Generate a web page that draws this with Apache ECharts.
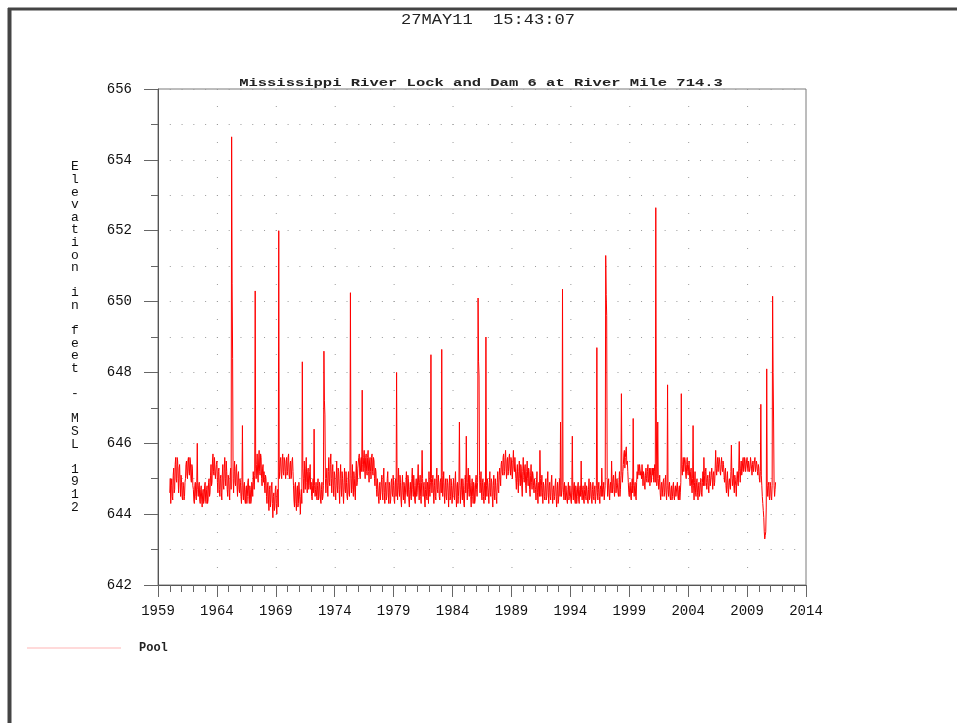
<!DOCTYPE html>
<html><head><meta charset="utf-8">
<script src="https://cdn.jsdelivr.net/npm/echarts@6/dist/echarts.min.js"></script>
<style>html,body{margin:0;padding:0;background:#fff}#c{width:957px;height:723px}</style>
</head><body><div id="c"></div>
<script>
// ---- text ----
const chartTitle = 'Mississippi River Lock and Dam 6 at River Mile 714.3';
const stampText = '27MAY11  15:43:07';
const yAxisTitle = 'Elevation in feet - MSL 1912';
const seriesName = 'Pool';

// ---- axes (tick labels come from these) ----
const xMin = 1959, xMax = 2014, xStep = 5;
const yMin = 642, yMax = 656, yStep = 2;

// ---- pool elevation readings, two per month (1st = "A", mid-month = "B"), from Jan 1960 ----
const startYear = 1960;
const readingsPerYear = 24;

const pool1960sA = [
  644.6, 644.3, 645.0, 644.4, 645.3, 644.7, 645.6, 644.9, 645.5, 644.6, 645.4, 644.5,
  644.9, 644.4, 644.8, 644.5, 645.0, 645.5, 645.0, 645.6, 645.1, 645.5, 644.9, 645.3,
  644.7, 644.3, 644.9, 644.4, 646.0, 644.5, 644.9, 644.3, 644.8, 644.2, 644.7, 644.4,
  644.9, 644.3, 644.8, 644.4, 645.0, 644.6, 645.4, 644.9, 645.7, 645.1, 645.6, 645.0,
  645.5, 644.6, 645.3, 644.5, 645.1, 644.4, 645.4, 644.7, 645.6, 644.8, 645.2, 644.5,
  645.0, 644.4, 645.3, 654.65, 648.4, 644.6, 645.5, 644.8, 645.4, 644.5, 645.2, 644.6,
  644.9, 644.3, 646.5, 644.4, 644.9, 644.3, 644.8, 644.5, 645.0, 644.3, 644.7, 644.4,
  644.8, 645.2, 644.7, 650.3, 645.0, 645.7, 644.9, 645.8, 645.1, 645.6, 644.8, 645.4,
  645.2, 644.6, 645.0, 644.3, 644.9, 644.1, 644.8, 644.4, 644.9, 643.9, 644.6, 644.2,
  644.8, 644.0, 644.7, 652.0, 645.2, 645.6, 645.0, 645.7, 645.1, 645.5, 645.0, 645.6
];
const pool1960sB = [
  645.0, 644.8, 644.5, 645.1, 644.6, 645.4, 645.0, 645.6, 645.0, 645.3, 644.9, 645.1,
  644.5, 644.9, 644.4, 644.9, 645.4, 645.1, 645.5, 645.2, 645.6, 645.0, 645.4, 644.8,
  644.4, 644.8, 644.5, 644.9, 644.7, 644.8, 644.4, 644.7, 644.4, 644.6, 644.3, 644.8,
  644.4, 644.7, 644.3, 644.9, 644.5, 645.1, 644.8, 645.5, 645.2, 645.6, 645.0, 645.4,
  644.9, 645.2, 644.7, 645.0, 644.6, 645.1, 644.8, 645.3, 645.0, 645.5, 644.7, 645.1,
  644.6, 645.1, 644.7, 650.5, 645.0, 645.2, 644.9, 645.3, 644.8, 645.1, 644.7, 645.0,
  644.5, 644.8, 644.6, 644.8, 644.4, 644.7, 644.3, 644.9, 644.5, 644.8, 644.3, 644.9,
  644.5, 644.9, 645.1, 645.3, 645.4, 645.1, 645.5, 645.2, 645.7, 645.0, 645.3, 644.9,
  644.8, 645.1, 644.5, 644.8, 644.4, 644.7, 644.2, 644.8, 644.3, 644.5, 644.1, 644.7,
  644.3, 644.6, 644.2, 645.0, 645.5, 645.1, 645.5, 645.2, 645.6, 645.2, 645.5, 645.1
];
const pool1970sA = [
  645.2, 645.7, 645.0, 645.5, 645.1, 645.6, 644.8, 644.2, 644.9, 644.1, 644.8, 644.3,
  644.9, 644.0, 644.7, 648.3, 645.0, 645.5, 644.7, 645.6, 644.6, 645.3, 644.8, 645.4,
  644.9, 644.4, 645.0, 646.4, 644.5, 644.9, 644.4, 645.0, 644.5, 644.8, 644.3, 644.9,
  644.5, 648.6, 646.8, 644.6, 645.3, 644.5, 645.6, 644.8, 645.7, 644.6, 645.4, 644.5,
  645.1, 644.4, 645.5, 644.6, 645.2, 644.3, 645.4, 644.5, 645.0, 644.3, 645.3, 644.6,
  644.9, 644.4, 645.2, 644.5, 650.25, 644.6, 645.4, 644.5, 645.0, 644.4, 645.5, 644.9,
  645.3, 645.7, 645.0, 645.6, 647.5, 645.2, 645.8, 645.0, 645.7, 645.1, 645.8, 644.9,
  645.6, 645.0, 645.7, 645.1, 645.5, 644.8, 645.2, 644.5, 645.0, 644.3, 644.9, 644.4,
  645.1, 644.4, 645.3, 644.3, 644.9, 644.5, 645.2, 644.3, 644.8, 644.4, 645.0, 644.5,
  644.8, 644.3, 645.0, 648.0, 644.4, 645.3, 644.5, 644.9, 644.2, 645.1, 644.4, 644.8
];
const pool1970sB = [
  645.6, 645.1, 645.4, 645.0, 645.5, 645.2, 644.4, 644.8, 644.3, 644.7, 644.2, 644.9,
  644.4, 644.5, 644.3, 645.3, 644.6, 645.0, 645.3, 644.9, 645.2, 644.7, 645.2, 644.7,
  644.5, 644.8, 644.6, 644.8, 644.7, 644.5, 644.8, 644.4, 644.9, 644.4, 644.7, 644.4,
  644.8, 647.2, 645.0, 645.0, 644.8, 645.2, 644.9, 645.4, 645.0, 645.2, 644.8, 645.2,
  644.6, 645.0, 644.8, 645.3, 644.7, 645.0, 644.8, 645.2, 644.6, 644.9, 644.7, 645.2,
  644.5, 644.9, 644.6, 645.0, 645.1, 645.0, 644.7, 645.2, 644.6, 645.1, 644.8, 645.3,
  645.6, 645.1, 645.5, 645.2, 645.4, 645.6, 645.3, 645.6, 645.2, 645.6, 645.2, 645.5,
  645.2, 645.6, 645.2, 645.6, 645.0, 645.3, 644.7, 645.0, 644.5, 644.8, 644.4, 644.9,
  644.6, 645.0, 644.6, 644.8, 644.4, 645.0, 644.6, 644.9, 644.3, 644.9, 644.6, 645.1,
  644.4, 644.9, 644.5, 644.9, 644.8, 644.7, 645.1, 644.4, 644.8, 644.6, 644.9, 644.3
];
const pool1980sA = [
  644.3, 645.2, 644.5, 645.0, 644.2, 644.9, 644.4, 645.3, 644.5, 644.8, 644.3, 645.0,
  644.6, 645.4, 644.4, 645.1, 644.3, 645.8, 644.5, 644.9, 644.2, 645.0, 644.4, 644.8,
  645.2, 644.5, 648.5, 644.6, 645.1, 644.3, 645.0, 644.4, 645.3, 644.6, 644.9, 644.4,
  645.0, 648.65, 644.5, 645.2, 644.3, 645.0, 644.4, 644.9, 644.2, 645.1, 644.5, 644.8,
  644.3, 645.0, 644.4, 645.2, 644.2, 644.9, 644.5, 646.6, 644.3, 645.0, 644.4, 644.8,
  644.2, 645.1, 646.2, 644.4, 645.3, 644.5, 644.9, 644.2, 645.0, 644.3, 644.8, 644.4,
  645.1, 644.5, 650.1, 647.9, 644.6, 645.2, 644.4, 645.0, 644.3, 644.9, 649.0, 644.5,
  645.0, 644.3, 645.2, 644.5, 644.9, 644.2, 645.1, 644.4, 644.8, 644.3, 645.2, 644.6,
  645.3, 644.8, 645.5, 645.1, 645.7, 645.2, 645.8, 645.0, 645.6, 645.2, 645.7, 645.1,
  645.5, 645.0, 645.8, 645.2, 645.6, 644.7, 645.4, 644.6, 645.5, 644.8, 645.3, 644.5
];
const pool1980sB = [
  644.9, 644.6, 645.1, 644.4, 644.7, 644.5, 645.0, 644.7, 645.1, 644.4, 644.8, 644.5,
  645.0, 644.8, 644.9, 644.5, 644.9, 645.0, 644.8, 644.4, 644.7, 644.5, 644.9, 644.3,
  644.7, 644.9, 645.0, 644.9, 644.6, 644.8, 644.5, 645.0, 644.7, 645.1, 644.5, 644.9,
  644.6, 645.1, 644.9, 644.6, 644.8, 644.5, 645.0, 644.6, 644.8, 644.4, 645.0, 644.3,
  644.8, 644.5, 644.9, 644.6, 644.8, 644.3, 644.9, 644.8, 644.7, 644.6, 645.0, 644.3,
  644.7, 644.6, 644.9, 644.9, 644.7, 645.1, 644.5, 644.8, 644.5, 644.9, 644.3, 644.9,
  644.7, 644.9, 648.3, 645.1, 644.9, 644.6, 644.9, 644.5, 644.8, 644.4, 644.8, 645.0,
  644.6, 644.9, 644.6, 645.0, 644.5, 644.8, 644.6, 645.0, 644.5, 644.9, 644.7, 645.1,
  645.0, 645.4, 645.2, 645.6, 645.1, 645.6, 645.3, 645.5, 645.1, 645.6, 645.3, 645.6,
  645.1, 645.5, 645.3, 645.6, 645.0, 645.2, 644.9, 645.2, 645.0, 645.4, 644.8, 645.2
];
const pool1990sA = [
  645.6, 644.9, 645.4, 644.6, 645.5, 644.8, 645.2, 644.5, 645.4, 644.7, 645.1, 644.6,
  645.0, 644.4, 645.2, 644.3, 644.9, 645.8, 644.5, 645.1, 644.3, 644.8, 644.4, 645.0,
  644.5, 645.2, 644.3, 644.9, 644.4, 645.1, 644.3, 644.8, 644.5, 645.0, 644.2, 644.9,
  644.4, 645.0, 646.6, 644.5, 650.35, 644.6, 644.9, 644.4, 644.8, 644.3, 644.9, 644.5,
  644.8, 644.3, 646.2, 644.4, 644.9, 644.3, 644.7, 644.5, 644.9, 644.3, 644.8, 645.5,
  644.4, 644.8, 644.3, 644.9, 644.4, 644.7, 644.3, 645.0, 644.5, 644.8, 644.3, 644.9,
  644.4, 644.8, 644.5, 648.7, 644.4, 644.9, 644.3, 644.8, 645.3, 644.5, 644.9, 644.4,
  651.3, 649.6, 644.5, 645.0, 644.4, 644.9, 645.5, 644.6, 645.1, 644.5, 645.2, 644.8,
  645.0, 644.5, 645.2, 644.7, 647.4, 644.9, 645.4, 645.8, 645.6, 645.9, 645.5, 644.9,
  644.5, 644.9, 644.4, 645.0, 646.7, 644.5, 644.9, 644.4, 645.2, 645.4, 645.1, 645.4
];
const pool1990sB = [
  645.1, 645.3, 644.8, 645.2, 645.0, 645.3, 644.7, 645.1, 644.9, 645.2, 644.8, 645.0,
  644.7, 644.9, 644.6, 644.8, 644.5, 645.0, 644.8, 644.6, 644.9, 644.5, 644.8, 644.4,
  644.9, 644.6, 644.8, 644.5, 644.9, 644.6, 644.7, 644.4, 644.8, 644.5, 644.7, 644.3,
  644.8, 644.5, 644.8, 644.7, 644.9, 644.4, 644.6, 644.8, 644.4, 644.7, 644.4, 644.8,
  644.4, 644.8, 644.6, 644.8, 644.4, 644.8, 644.3, 644.8, 644.4, 644.7, 644.5, 644.6,
  644.7, 644.4, 644.7, 644.5, 644.8, 644.4, 644.7, 644.4, 644.9, 644.4, 644.7, 644.5,
  644.7, 644.3, 644.8, 644.6, 644.7, 644.5, 644.7, 644.5, 644.8, 644.7, 644.4, 644.8,
  650.2, 645.0, 644.8, 644.6, 644.8, 644.6, 644.9, 645.0, 644.7, 644.9, 644.6, 645.0,
  644.6, 644.9, 644.5, 645.1, 645.2, 645.2, 645.7, 645.3, 645.8, 645.4, 645.2, 644.6,
  644.8, 644.5, 644.8, 644.6, 644.8, 644.8, 644.5, 644.9, 645.0, 645.2, 645.4, 645.1
];
const pool2000sA = [
  645.2, 645.4, 644.8, 645.1, 644.7, 645.3, 644.9, 645.4, 645.0, 644.8, 645.3, 644.9,
  645.1, 644.9, 645.4, 652.65, 644.8, 646.6, 644.7, 645.1, 644.4, 644.9, 644.5, 645.0,
  644.6, 645.1, 644.4, 647.65, 644.5, 644.9, 644.4, 644.8, 644.5, 644.9, 644.4, 644.8,
  644.5, 644.9, 644.4, 644.8, 644.6, 647.4, 645.1, 645.6, 645.2, 645.5, 645.0, 645.6,
  645.1, 645.5, 644.8, 645.3, 644.6, 646.5, 644.4, 645.2, 644.5, 645.0, 644.4, 644.9,
  644.6, 645.0, 644.5, 645.2, 645.6, 644.8, 645.3, 644.7, 645.1, 644.6, 645.2, 644.8,
  645.3, 644.7, 645.2, 644.9, 645.8, 645.1, 645.6, 645.2, 645.5, 645.1, 645.6, 645.2,
  645.4, 644.9, 645.3, 644.6, 645.2, 644.5, 645.0, 644.7, 645.95, 644.8, 645.3, 644.6,
  645.1, 644.5, 645.2, 644.8, 646.05, 644.9, 645.5, 645.2, 645.6, 645.3, 645.5, 645.2,
  645.6, 645.2, 645.5, 645.3, 645.6, 645.1, 645.5, 645.2, 645.6, 645.3, 645.4, 645.1
];
const pool2000sB = [
  645.0, 645.1, 645.2, 644.8, 645.1, 645.0, 645.2, 644.9, 645.3, 645.1, 644.9, 645.3,
  645.3, 645.2, 644.9, 647.0, 645.0, 645.0, 644.9, 644.6, 644.8, 644.5, 644.9, 644.5,
  644.9, 644.6, 644.8, 644.7, 644.8, 644.5, 644.7, 644.4, 644.8, 644.5, 644.7, 644.5,
  644.8, 644.5, 644.7, 644.4, 644.9, 645.3, 645.4, 645.2, 645.6, 645.1, 645.4, 645.2,
  645.4, 645.0, 645.2, 644.8, 645.0, 644.8, 644.9, 644.6, 644.9, 644.6, 644.8, 644.5,
  644.9, 644.6, 644.9, 644.8, 645.1, 645.2, 644.9, 645.0, 644.8, 645.0, 644.8, 645.1,
  645.0, 645.1, 644.8, 645.3, 645.3, 645.4, 645.2, 645.6, 645.2, 645.4, 645.3, 645.5,
  645.1, 645.2, 644.8, 645.0, 644.7, 644.9, 644.8, 645.2, 645.1, 645.0, 644.8, 645.1,
  644.8, 645.0, 644.9, 645.3, 645.2, 645.3, 645.1, 645.5, 645.2, 645.6, 645.2, 645.5,
  645.3, 645.5, 645.2, 645.6, 645.3, 645.4, 645.2, 645.5, 645.2, 645.5, 645.2, 645.4
];
const pool2010sA = [
  645.3, 644.9, 647.1, 644.8, 644.3, 643.9, 643.3, 643.5, 648.1, 644.5, 644.9, 644.4,
  644.8, 644.4, 650.15, 646.6, 644.5, 644.9
];
const pool2010sB = [
  645.0, 645.2, 645.1, 644.5, 644.1, 643.5, 643.4, 644.2, 644.8, 644.8, 644.5, 644.9,
  644.5, 644.8, 648.0, 644.8, 644.7
];

const poolA = [].concat(pool1960sA, pool1970sA, pool1980sA, pool1990sA, pool2000sA, pool2010sA);
const poolB = [].concat(pool1960sB, pool1970sB, pool1980sB, pool1990sB, pool2000sB, pool2010sB);
const poolValues = [];
poolA.forEach((v, i) => { poolValues.push(v); if (i < poolB.length) poolValues.push(poolB[i]); });
const poolData = poolValues.map((v, i) => [startYear + i / readingsPerYear, v]);

const mono = '"Liberation Mono", "DejaVu Sans Mono", monospace';
const chart = echarts.init(document.getElementById('c'), null, { renderer: 'canvas' });
const gridW = 648, gridH = 496;

chart.setOption({
  animation: false,
  backgroundColor: '#ffffff',
  grid: { left: 158, top: 89, width: gridW, height: gridH, show: true, borderColor: '#7a7a7a', borderWidth: 1, backgroundColor: 'transparent' },
  xAxis: {
    type: 'value', min: xMin, max: xMax, interval: xStep,
    axisLine: { show: true, onZero: false, lineStyle: { color: '#555', width: 1 } },
    axisTick: { show: true, length: 12, lineStyle: { color: '#666' } },
    minorTick: { show: true, splitNumber: 5, length: 7, lineStyle: { color: '#666' } },
    splitLine: { show: false },
    axisLabel: { margin: 19, color: '#111', fontFamily: mono, fontSize: 14, formatter: v => String(v) }
  },
  yAxis: [
    {
      type: 'value', min: yMin, max: yMax, interval: yStep,
      name: yAxisTitle.split('').join('\n'), nameLocation: 'middle', nameRotate: 0, nameGap: 83,
      nameTextStyle: { fontFamily: mono, fontSize: 13, lineHeight: 12.6, color: '#111', align: 'center', verticalAlign: 'middle' },
      axisLine: { show: true, onZero: false, lineStyle: { color: '#555', width: 1 } },
      axisTick: { show: true, length: 14, lineStyle: { color: '#666' } },
      minorTick: { show: true, splitNumber: 2, length: 7, lineStyle: { color: '#666' } },
      splitLine: { show: false },
      axisLabel: { margin: 26, color: '#111', fontFamily: mono, fontSize: 14, formatter: v => String(v) }
    },
    {
      type: 'value', min: yMin, max: yMax, interval: 1, position: 'left',
      axisLine: { show: false }, axisTick: { show: false }, axisLabel: { show: false },
      splitLine: { show: true, lineStyle: { color: '#9a9a9a', width: 1, type: [1, gridW / (xMax - xMin) - 1] } }
    },
    {
      type: 'value', min: yMin, max: yMax, interval: 0.5, position: 'left',
      axisLine: { show: false }, axisTick: { show: false }, axisLabel: { show: false },
      splitLine: { show: true, lineStyle: { color: '#9a9a9a', width: 1, type: [1, gridW * xStep / (xMax - xMin) - 1] } }
    }
  ],
  legend: {
    left: 27, top: 641, padding: 0, itemWidth: 94, itemHeight: 1, icon: 'rect',
    itemStyle: { color: '#ffb5b5' },
    textStyle: { fontFamily: mono, fontWeight: 'bold', fontSize: 12, color: '#222', padding: [0, 0, 0, 13], lineHeight: 14 },
    data: [seriesName]
  },
  series: [{
    name: seriesName, type: 'line', data: poolData, yAxisIndex: 0,
    showSymbol: false, symbol: 'none', sampling: false,
    lineStyle: { color: '#ff0000', width: 1 }, itemStyle: { color: '#ff0000' }, z: 3
  }],
  graphic: [
    { type: 'line', shape: { x1: 8, y1: 9, x2: 957, y2: 9 }, style: { stroke: '#444', lineWidth: 3 } },
    { type: 'line', shape: { x1: 9.5, y1: 8, x2: 9.5, y2: 723 }, style: { stroke: '#444', lineWidth: 4 } },
    { type: 'text', x: 488, y: 20.5, scaleX: 1.22,
      style: { text: stampText, font: '14px "Liberation Mono"', fill: '#222', align: 'center', verticalAlign: 'middle', textAlign: 'center', textVerticalAlign: 'middle' } },
    { type: 'text', x: 481, y: 83, scaleX: 1.55,
      style: { text: chartTitle, font: 'bold 10px "Liberation Mono"', fill: '#222', align: 'center', verticalAlign: 'middle', textAlign: 'center', textVerticalAlign: 'middle' } }
  ]
});
</script>
</body></html>
